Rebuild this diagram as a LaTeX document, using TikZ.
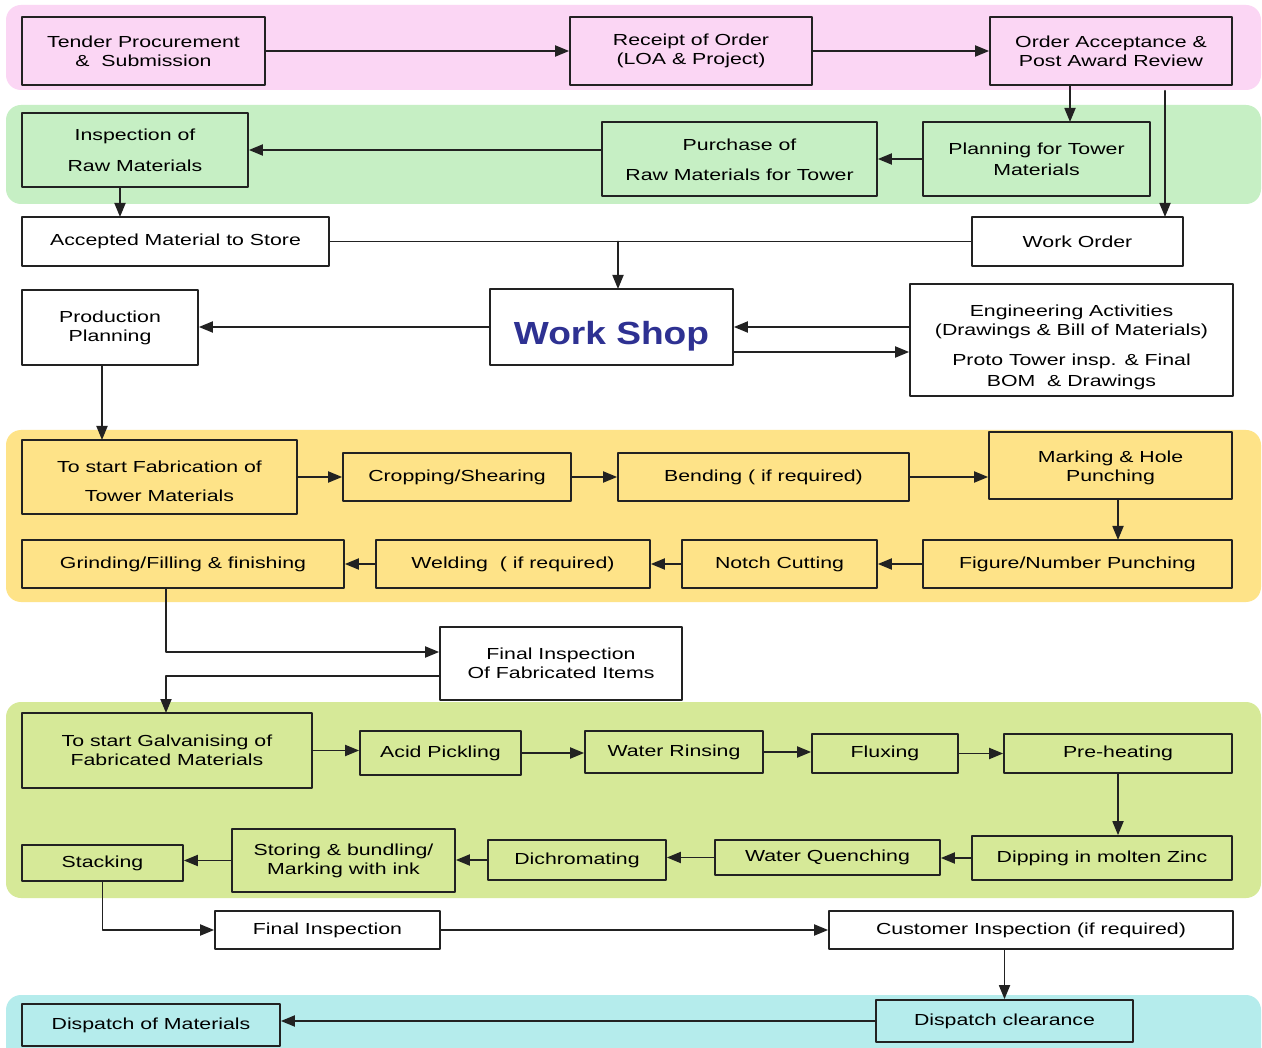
\documentclass[tikz,border=0pt]{standalone}
\usepackage{fontspec}
\setmainfont{Liberation Sans}[FakeStretch=1.33]
\newfontfamily\wsfont{Liberation Sans}[FakeStretch=1.16]
\usepackage[usenames]{xcolor}
\usepackage{tikz}
\usetikzlibrary{arrows.meta}
\definecolor{pinkband}{RGB}{251,214,244}
\definecolor{greenband}{RGB}{198,239,196}
\definecolor{yellowband}{RGB}{254,227,136}
\definecolor{limeband}{RGB}{214,233,152}
\definecolor{cyanband}{RGB}{181,236,236}
\definecolor{wsblue}{RGB}{46,49,146}
\definecolor{linegray}{RGB}{34,34,34}
\begin{document}
\begin{tikzpicture}[line cap=round,line join=round,>={Triangle[length=14pt,width=11pt]},x=1pt,y=-1pt,
  box/.style={draw=linegray,line width=1.7pt,inner sep=0pt,align=center,font=\fontsize{16}{19}\selectfont},
  band/.style={rounded corners=15pt},
  conn/.style={draw=linegray,line width=1.8pt}]
\clip(0,0) rectangle (1262,1048);
\fill[white] (0,0) rectangle (1262,1048);
\fill[pinkband,band] (6,5) rectangle (1261,90);
\fill[greenband,band] (6,105) rectangle (1261,204);
\fill[yellowband,band] (6,430) rectangle (1261,602);
\fill[limeband,band] (6,702) rectangle (1261,898);
\fill[cyanband,band] (6,995) rectangle (1261,1075);
\node[box,fill=pinkband,minimum width=243pt,minimum height=68pt] (tender) at (143.5,51) {Tender Procurement\\\&\ \ Submission};
\node[box,fill=pinkband,minimum width=242pt,minimum height=68pt] (receipt) at (691,51) {Receipt of Order\\(LOA\ \&\ Project)};
\node[box,fill=pinkband,minimum width=242pt,minimum height=68pt] (ordacc) at (1111,51) {Order Acceptance \&\\Post Award Review};
\node[box,fill=greenband,minimum width=226pt,minimum height=74pt] (insp) at (135,150) {Inspection of\\[12pt]Raw Materials};
\node[box,fill=greenband,minimum width=275pt,minimum height=74pt,text height=43pt,text depth=0pt] (purch) at (739.5,159) {Purchase of\\[11pt]Raw Materials for Tower};
\node[box,fill=greenband,minimum width=227pt,minimum height=74pt] (plan) at (1036.5,159) {Planning for Tower\\[2pt]Materials};
\node[box,fill=white,minimum width=307pt,minimum height=49pt] (acc) at (175.5,241.5) {Accepted Material to Store};
\node[box,fill=white,minimum width=211pt,minimum height=49pt] (wo) at (1077.5,241.5) {Work Order};
\node[box,fill=white,minimum width=243pt,minimum height=76pt,font=\wsfont\fontsize{32}{36}\selectfont\bfseries,text=wsblue,text height=36pt,text depth=0pt] (ws) at (611.5,327) {Work Shop};
\node[box,fill=white,minimum width=176pt,minimum height=75pt] (prod) at (110,327.5) {Production\\Planning};
\node[box,fill=white,minimum width=323pt,minimum height=112pt,text height=94pt,text depth=0pt] (eng) at (1071.5,340) {Engineering Activities\\(Drawings \& Bill of Materials)\\[11pt]Proto Tower insp. \& Final\\[2pt]BOM\ \ \& Drawings};
\node[box,fill=yellowband,minimum width=275pt,minimum height=74pt,text height=50pt,text depth=0pt] (fab) at (159.5,477) {To start Fabrication of\\[10pt]Tower Materials};
\node[box,fill=yellowband,minimum width=228pt,minimum height=48pt] (crop) at (457,477) {Cropping/Shearing};
\node[box,fill=yellowband,minimum width=291pt,minimum height=48pt] (bend) at (763.5,477) {Bending ( if required)};
\node[box,fill=yellowband,minimum width=243pt,minimum height=67pt,text height=32pt,text depth=0pt] (mark) at (1110.5,465.5) {Marking \& Hole\\Punching};
\node[box,fill=yellowband,minimum width=322pt,minimum height=48pt] (grind) at (183,564) {Grinding/Filling \& finishing};
\node[box,fill=yellowband,minimum width=274pt,minimum height=48pt] (weld) at (513,564) {Welding\ \ ( if required)};
\node[box,fill=yellowband,minimum width=195pt,minimum height=48pt] (notch) at (779.5,564) {Notch Cutting};
\node[box,fill=yellowband,minimum width=309pt,minimum height=48pt] (fig) at (1077.5,564) {Figure/Number Punching};
\node[box,fill=white,minimum width=242pt,minimum height=73pt] (ff) at (561,663.5) {Final Inspection\\Of Fabricated Items};
\node[box,fill=limeband,minimum width=290pt,minimum height=75pt] (galv) at (167,750.5) {To start Galvanising of\\Fabricated Materials};
\node[box,fill=limeband,minimum width=161pt,minimum height=44pt] (acid) at (440.5,753) {Acid Pickling};
\node[box,fill=limeband,minimum width=178pt,minimum height=42pt] (rinse) at (674,752) {Water Rinsing};
\node[box,fill=limeband,minimum width=146pt,minimum height=39pt] (flux) at (885,753.5) {Fluxing};
\node[box,fill=limeband,minimum width=228pt,minimum height=39pt] (pre) at (1118,753.5) {Pre-heating};
\node[box,fill=limeband,minimum width=260pt,minimum height=44pt] (dip) at (1102,858) {Dipping in molten Zinc};
\node[box,fill=limeband,minimum width=225pt,minimum height=35pt] (quench) at (827.5,857.5) {Water Quenching};
\node[box,fill=limeband,minimum width=178pt,minimum height=40pt] (dichro) at (577,860) {Dichromating};
\node[box,fill=limeband,minimum width=223pt,minimum height=63pt] (stor) at (343.5,860.5) {Storing \& bundling/\\Marking with ink};
\node[box,fill=limeband,minimum width=161pt,minimum height=36pt] (stack) at (102.5,863) {Stacking};
\node[box,fill=white,minimum width=225pt,minimum height=38pt] (fin) at (327.5,930) {Final Inspection};
\node[box,fill=white,minimum width=404pt,minimum height=38pt] (cust) at (1031,930) {Customer Inspection (if required)};
\node[box,fill=cyanband,minimum width=257pt,minimum height=42pt] (clear) at (1004.5,1021) {Dispatch clearance};
\node[box,fill=cyanband,minimum width=258pt,minimum height=42pt] (disp) at (151,1025) {Dispatch of Materials};
\coordinate (planin) at (1070,122);
\coordinate (woin) at (1165,217);
\coordinate (accin) at (120,217);
\coordinate (wsin) at (618,289);
\coordinate (fabin) at (102,440);
\coordinate (figin) at (1118,540);
\coordinate (galvin) at (166,713);
\draw[conn,->] (tender.east) -- (receipt.west);
\draw[conn,->] (receipt.east) -- (ordacc.west);
\draw[conn,->] (ordacc.south -| planin) -- (planin);
\draw[conn,->] ([yshift=-5pt]ordacc.south -| woin) -- (woin);
\draw[conn,->] (plan.west) -- (purch.east);
\draw[conn,->] (purch.west |- insp.east) -- (insp.east);
\draw[conn,->] (insp.south -| accin) -- (accin);
\draw[conn] (acc.east) -- (wo.west);
\draw[conn,->] (acc.east -| wsin) -- (wsin);
\draw[conn,->] (ws.west) -- (prod.east |- ws.west);
\draw[conn,->] (eng.west |- ws.east) -- (ws.east);
\draw[conn,->] ([yshift=-25pt]ws.east) -- ([yshift=-25pt]ws.east -| eng.west);
\draw[conn,->] (prod.south -| fabin) -- (fabin);
\draw[conn,->] (fab.east) -- (crop.west);
\draw[conn,->] (crop.east) -- (bend.west);
\draw[conn,->] (bend.east) -- (bend.east -| mark.west);
\draw[conn,->] (mark.south -| figin) -- (figin);
\draw[conn,->] (fig.west) -- (notch.east);
\draw[conn,->] (notch.west) -- (weld.east);
\draw[conn,->] (weld.west) -- (grind.east);
\draw[conn,->] (grind.south -| galvin) |- ([yshift=11.5pt]ff.west);
\draw[conn,->] ([yshift=-12.5pt]ff.west) -| (galvin);
\draw[conn,->] (galv.east) -- (galv.east -| acid.west);
\draw[conn,->] (acid.east) -- (acid.east -| rinse.west);
\draw[conn,->] (rinse.east) -- (rinse.east -| flux.west);
\draw[conn,->] (flux.east) -- (pre.west);
\draw[conn,->] (pre.south) -- (pre.south |- dip.north);
\draw[conn,->] (dip.west) -- (dip.west -| quench.east);
\draw[conn,->] (quench.west) -- (quench.west -| dichro.east);
\draw[conn,->] (dichro.west) -- (dichro.west -| stor.east);
\draw[conn,->] (stor.west) -- (stor.west -| stack.east);
\draw[conn,->] (stack.south) |- (fin.west);
\draw[conn,->] (fin.east) -- (cust.west);
\draw[conn,->] (cust.south -| clear.north) -- (clear.north);
\draw[conn,->] (clear.west) -- (clear.west -| disp.east);
\end{tikzpicture}
\end{document}
